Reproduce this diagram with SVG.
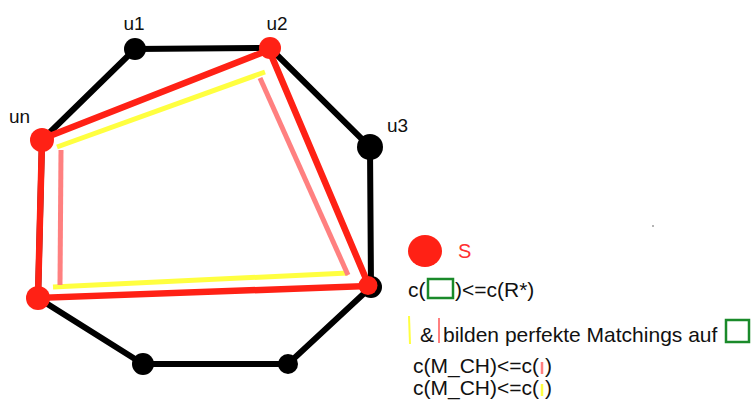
<svg xmlns="http://www.w3.org/2000/svg" width="751" height="401" viewBox="0 0 751 401">
  <style>
    .lbl { font-family: "Liberation Sans", Arial, sans-serif; fill: #111; }
    .cyc { stroke: #000; stroke-width: 6; fill: none; stroke-linecap: round; }
    .red { stroke: #ff2115; stroke-width: 6.5; fill: none; stroke-linecap: round; }
    .yel { stroke: #ffff40; stroke-width: 5; fill: none; }
    .pink { stroke: #ff8080; stroke-width: 5; fill: none; }
    .box { fill: none; stroke: #1a8a2a; stroke-width: 2.5; }
    .vblack { fill: #000; }
    .vred { fill: #ff2115; }
  </style>
  <rect width="751" height="401" fill="#fff"/>

  <g id="connectors">
    <!-- octagon cycle -->
    <polyline class="cyc" points="42,140 135,49 270,48 370,147 371,287 288,364 143,364 38,298 42,140"/>
    <!-- yellow matching -->
    <line class="yel" x1="57" y1="147" x2="265" y2="72"/>
    <line class="yel" x1="53" y1="287" x2="348" y2="273"/>
    <!-- pink matching -->
    <line class="pink" x1="61" y1="150" x2="60" y2="285"/>
    <line class="pink" x1="260" y1="78" x2="348" y2="275"/>
    <!-- red cycle on S -->
    <polygon class="red" points="42,139 269,50 369,286 38,298"/>
  </g>

  <g id="u1"><circle class="vblack" cx="135" cy="49" r="11"/><text class="lbl" x="134" y="30" font-size="19" text-anchor="middle">u1</text></g>
  <g id="u2"><circle class="vred" cx="270" cy="48" r="11"/><text class="lbl" x="277" y="30" font-size="19" text-anchor="middle">u2</text></g>
  <g id="u3"><circle class="vblack" cx="370" cy="147" r="13"/><text class="lbl" x="387" y="132" font-size="19">u3</text></g>
  <g id="un"><circle class="vred" cx="42" cy="140" r="12"/><text class="lbl" x="9" y="123" font-size="19">un</text></g>
  <g id="v4"><circle class="vblack" cx="371" cy="287" r="11"/><circle class="vred" cx="368" cy="285.5" r="9.5"/></g>
  <g id="v5"><circle class="vblack" cx="288" cy="364" r="10"/></g>
  <g id="v6"><circle class="vblack" cx="143" cy="364" r="11"/></g>
  <g id="v7"><circle class="vred" cx="38" cy="298" r="12"/></g>

  <!-- legend -->
  <g id="legend">
    <ellipse class="vred" cx="425" cy="251" rx="17" ry="16"/>
    <text x="458" y="258" font-size="20" font-family="Liberation Sans, Arial, sans-serif" fill="#ff3030">S</text>

    <text class="lbl" x="408" y="297" font-size="21">c(</text>
    <rect class="box" x="428" y="279" width="25" height="19"/>
    <text class="lbl" x="455" y="297" font-size="21">)&lt;=c(R*)</text>

    <line x1="409" y1="316" x2="410" y2="344" stroke="#ffff40" stroke-width="2"/>
    <text class="lbl" x="420" y="342" font-size="21">&amp;</text>
    <line x1="439" y1="318" x2="439" y2="343" stroke="#ff8080" stroke-width="2"/>
    <text class="lbl" x="443" y="342" font-size="21">bilden perfekte Matchings auf</text>
    <rect class="box" x="726" y="320" width="23" height="22"/>

    <text class="lbl" x="413" y="373" font-size="21">c(M_CH)&lt;=c(</text>
    <line x1="542" y1="362" x2="542" y2="374" stroke="#ff8080" stroke-width="2.5"/>
    <text class="lbl" x="545" y="373" font-size="21">)</text>

    <text class="lbl" x="413" y="395" font-size="21">c(M_CH)&lt;=c(</text>
    <line x1="542" y1="384" x2="542" y2="396" stroke="#ffff40" stroke-width="2.5"/>
    <text class="lbl" x="545" y="395" font-size="21">)</text>

    <circle cx="653" cy="226" r="0.8" fill="#555"/>
  </g>
</svg>
